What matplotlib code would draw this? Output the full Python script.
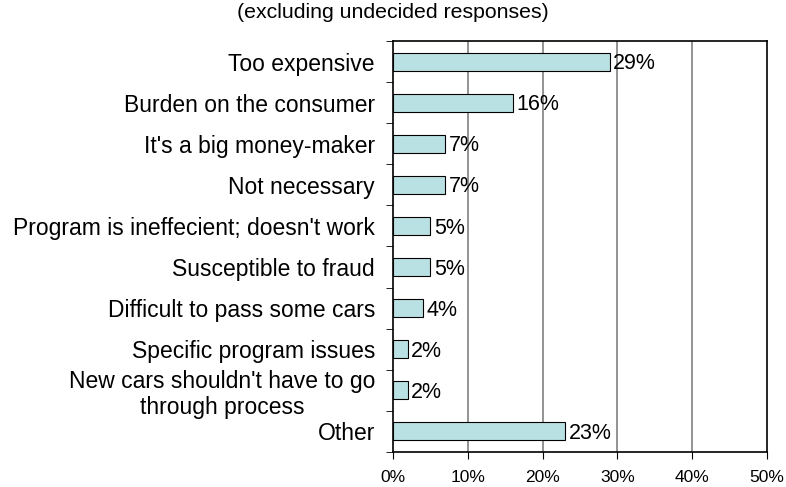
import numpy as np
import matplotlib.pyplot as plt

plt.rcParams['font.family'] = ['Liberation Sans', 'DejaVu Sans']

categories = ['Too expensive', 'Burden on the consumer', "It's a big money-maker",
              'Not necessary', "Program is ineffecient; doesn't work",
              'Susceptible to fraud', 'Difficult to pass some cars',
              'Specific program issues',
              "New cars shouldn't have to go\nthrough process", 'Other']
values = [29, 16, 7, 7, 5, 5, 4, 2, 2, 23]
xticks = [0, 10, 20, 30, 40, 50]

fig = plt.figure(figsize=(7.86, 4.87), dpi=100)
ax = fig.add_axes([393 / 786, 1 - 452 / 487, (767 - 393) / 786, (452 - 41) / 487])

y = np.arange(len(categories))
ax.barh(y, values, height=0.44, color='#B9E1E3', edgecolor='black', linewidth=0.8, zorder=3)
for yi, v in zip(y, values):
    ax.text(v + 0.45, yi + 0.05, f'{v}%', va='center', ha='left', fontsize=15.5, zorder=4)

ax.set_xlim(0, 50)
ax.set_ylim(len(categories) - 0.5, -0.5)
ax.set_xticks(xticks)
ax.set_xticklabels([f'{t}%' for t in xticks], fontsize=12.5)
ax.tick_params(axis='x', length=5, pad=8, direction='out')
ax.set_yticks(y)
ax.set_yticklabels(categories, fontsize=16.5)
ax.tick_params(axis='y', which='major', length=0, pad=13)
ax.set_yticks(np.arange(len(categories) + 1) - 0.5, minor=True)
ax.tick_params(axis='y', which='minor', length=5, direction='out')
for lbl in ax.get_yticklabels():
    lbl.set_multialignment('center')

for t in xticks[1:-1]:
    ax.axvline(t, color='#808080', linewidth=1.2, zorder=1)
for s in ax.spines.values():
    s.set_linewidth(1.2)

fig.text(393 / 786, 1 - 13 / 487, '(excluding undecided responses)', ha='center', va='center', fontsize=15.3)

fig.savefig('out.png', dpi=100)
